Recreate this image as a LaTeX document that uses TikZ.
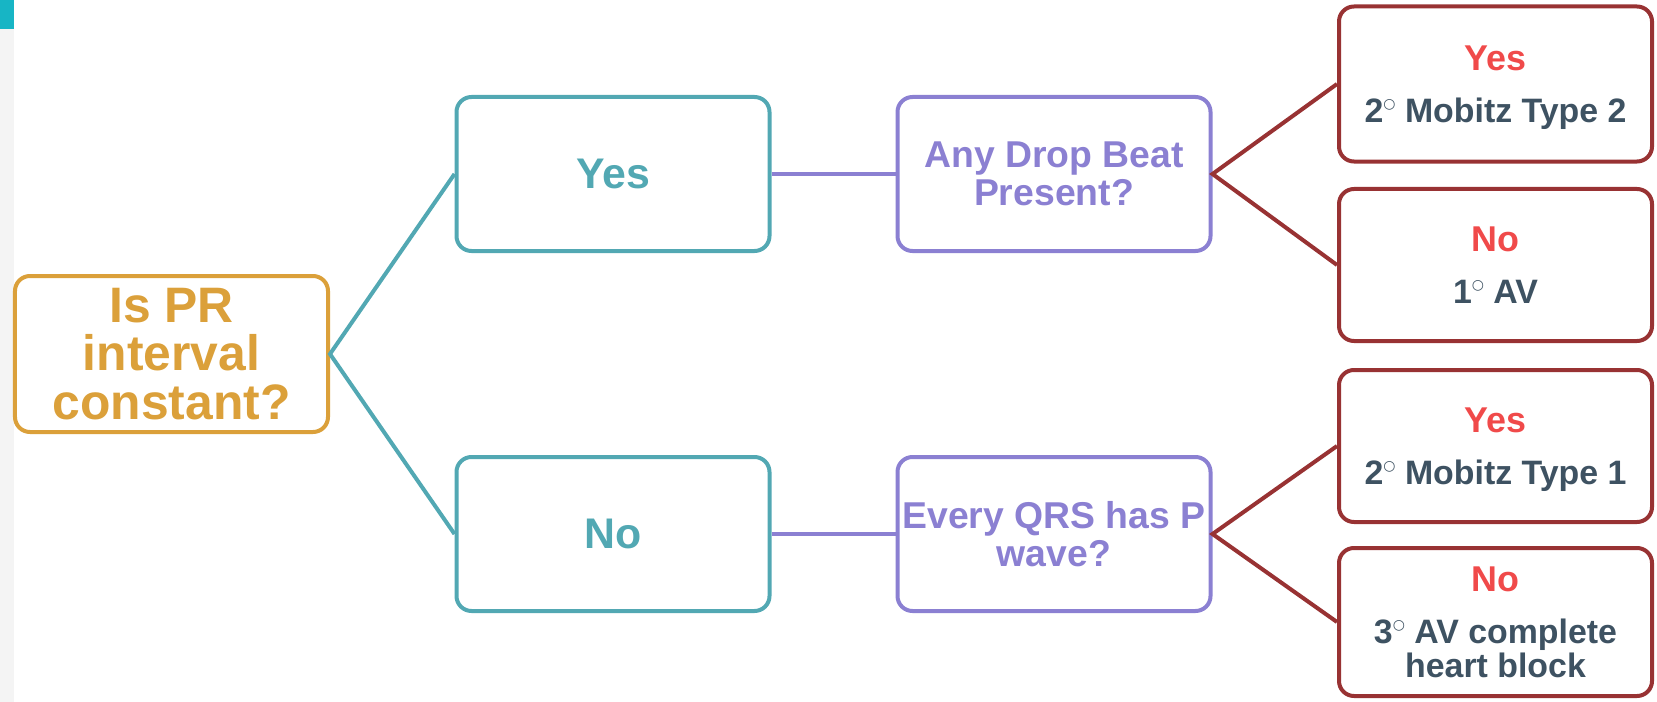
\documentclass[tikz,border=0pt]{standalone}
\usepackage{fontspec}
\setmainfont{Liberation Sans}
\newfontfamily\symboles{DejaVu Sans}
\usepackage{xcolor}

\definecolor{orq}{HTML}{DBA03A}
\definecolor{sarcelle}{HTML}{52A8B3}
\definecolor{violq}{HTML}{8B80D2}
\definecolor{bordeau}{HTML}{983233}
\definecolor{rougeq}{HTML}{F04A4A}
\definecolor{ardoise}{HTML}{3E5262}
\definecolor{turq}{HTML}{17B5C5}
\definecolor{bande}{HTML}{F4F4F4}

\newcommand{\grand}{\fontsize{37.5}{38}\selectfont}
\newcommand{\reponse}{\fontsize{36}{38}\selectfont}
\newcommand{\moyen}{\fontsize{34}{34}\selectfont}
% petit rond du degre
\newcommand{\degre}{\raisebox{14bp}{\symboles\mdseries\fontsize{14}{14}\selectfont ○}}

\begin{document}
\begin{tikzpicture}[x=1bp,y=-1bp,
    boite/.style={draw=#1, text=#1, line width=4bp, rounded corners=15bp,
      align=center, font=\bfseries\grand, inner sep=2bp,
      minimum width=313bp, minimum height=154bp},
    issue/.style={boite=bordeau, text=ardoise, font=\bfseries\moyen, text depth=0pt},
    lien/.style={draw=#1, line width=4bp}]
    % cadre et bande grise
    \useasboundingbox (0,0) rectangle (1657,702);
    \fill[bande] (0,0) rectangle (14,702);
    \fill[turq] (0,0) rectangle (14,29);
    % question de depart
    \node[boite=orq, font=\bfseries\fontsize{50}{49}\selectfont, minimum height=156bp]
      (pr) at (171.5,354) {Is PR\\interval\\constant?};
    % premier niveau
    \node[boite=sarcelle, font=\bfseries\fontsize{43}{44}\selectfont] (oui) at (613,174) {Yes};
    \node[boite=sarcelle, font=\bfseries\fontsize{43}{44}\selectfont] (non) at (613,534) {No};
    \node[boite=violq] (drop) at (1054,174) {Any Drop Beat\\Present?};
    \node[boite=violq] (qrs) at (1054,534) {Every QRS has P\\wave?};
    % issues
    \node[issue, minimum height=155bp] (mob2) at (1495.5,84)
      {\textcolor{rougeq}{\reponse Yes}\\[18bp] 2\degre\ Mobitz Type 2};
    \node[issue, minimum height=152bp] (av1) at (1495.5,265)
      {\textcolor{rougeq}{\reponse No}\\[18bp] 1\degre\ AV};
    \node[issue, minimum height=152bp] (mob1) at (1495.5,446)
      {\textcolor{rougeq}{\reponse Yes}\\[18bp] 2\degre\ Mobitz Type 1};
    \node[issue, minimum height=148bp] (av3) at (1495.5,622)
      {\textcolor{rougeq}{\reponse No}\\[18bp] 3\degre\ AV complete\\heart block};
    % liens
    \draw[lien=sarcelle] (oui.west) -- (pr.east) -- (non.west);
    \draw[lien=violq] (oui.east) -- (drop.west);
    \draw[lien=violq] (non.east) -- (qrs.west);
    \draw[lien=bordeau] (mob2.west) -- (drop.east) -- (av1.west);
    \draw[lien=bordeau] (mob1.west) -- (qrs.east) -- (av3.west);
\end{tikzpicture}
\end{document}
